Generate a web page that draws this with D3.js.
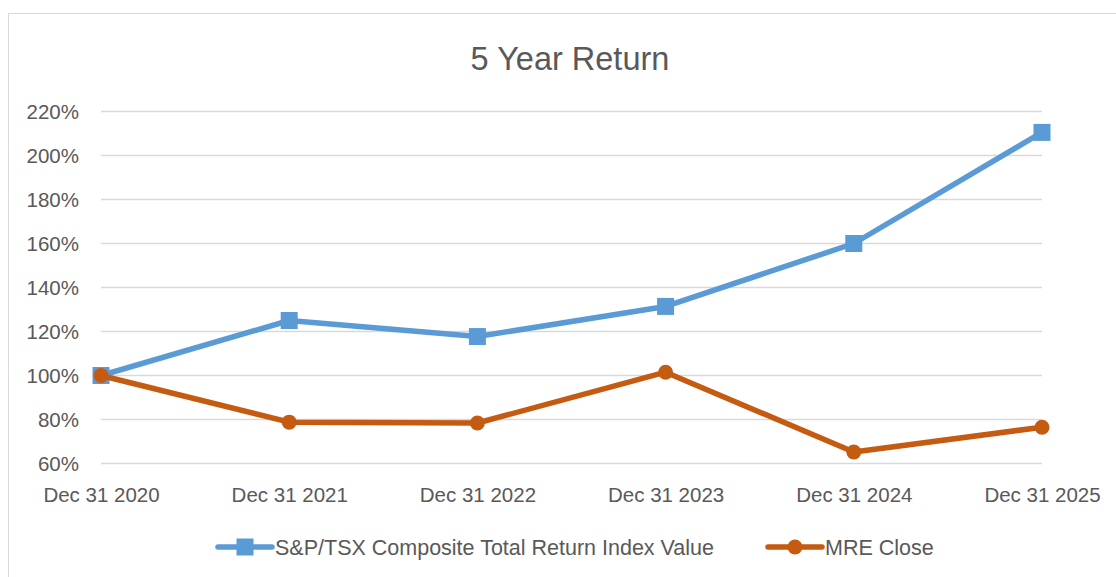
<!DOCTYPE html>
<html>
<head>
<meta charset="utf-8">
<script src="https://cdn.jsdelivr.net/npm/d3@7"></script>
<style>
  body { margin: 0; background: #fff; }
  text { font-family: "Liberation Sans", Arial, sans-serif; fill: #595959; }
</style>
</head>
<body>
<svg width="1116" height="577"></svg>
<script>
// chart data
var dates = ['Dec 31 2020', 'Dec 31 2021', 'Dec 31 2022', 'Dec 31 2023', 'Dec 31 2024', 'Dec 31 2025'];
var tsx = [100, 125, 117.7, 131.4, 160, 210.5];
var mre = [100, 78.8, 78.4, 101.5, 65.2, 76.5];
var yTicks = [60, 80, 100, 120, 140, 160, 180, 200, 220];
var seriesNames = ['S&P/TSX Composite Total Return Index Value', 'MRE Close'];

var blue = '#5b9bd5';
var orange = '#c55a11';

var svg = d3.select('svg');

// outer chart border
svg.append('rect')
  .attr('x', 8.5).attr('y', 13.5)
  .attr('width', 1130).attr('height', 600)
  .attr('fill', 'none')
  .attr('stroke', '#d9d9d9')
  .attr('stroke-width', 1);

var x = d3.scalePoint()
  .domain(dates)
  .range([101, 1042]);

var y = d3.scaleLinear()
  .domain([60, 220])
  .range([463.5, 111.5]);

// gridlines
svg.append('g')
  .selectAll('line')
  .data(yTicks)
  .enter()
  .append('line')
  .attr('x1', 101)
  .attr('x2', 1042)
  .attr('y1', function (d) { return y(d); })
  .attr('y2', function (d) { return y(d); })
  .attr('stroke', '#d9d9d9')
  .attr('stroke-width', 1.3);

// y labels
var yAxis = d3.axisLeft(y)
  .tickValues(yTicks)
  .tickSize(0)
  .tickPadding(0)
  .tickFormat(function (d) { return d + '%'; });

svg.append('g')
  .attr('transform', 'translate(79, 0)')
  .call(yAxis)
  .call(function (g) { g.select('.domain').remove(); })
  .selectAll('text')
  .attr('font-size', 20.5)
  .attr('font-family', null)
  .attr('dy', '0.36em');

// x labels
var xAxis = d3.axisBottom(x).tickSize(0).tickPadding(0);
svg.append('g')
  .attr('transform', 'translate(0, 486.5)')
  .call(xAxis)
  .call(function (g) { g.select('.domain').remove(); })
  .selectAll('text')
  .attr('font-size', 20.5)
  .attr('font-family', null)
  .attr('dy', '0.75em');

// title
svg.append('text')
  .attr('x', 570)
  .attr('y', 70)
  .attr('text-anchor', 'middle')
  .attr('font-size', 32.5)
  .text('5 Year Return');

var line = d3.line()
  .x(function (d, i) { return x(dates[i]); })
  .y(function (d) { return y(d); });

// blue series
svg.append('path')
  .datum(tsx)
  .attr('d', line)
  .attr('fill', 'none')
  .attr('stroke', blue)
  .attr('stroke-width', 5.5)
  .attr('stroke-linejoin', 'round');

svg.append('g')
  .selectAll('rect')
  .data(tsx)
  .enter()
  .append('rect')
  .attr('x', function (d, i) { return x(dates[i]) - 8.5; })
  .attr('y', function (d) { return y(d) - 8.5; })
  .attr('width', 17)
  .attr('height', 17)
  .attr('fill', blue);

// orange series
svg.append('path')
  .datum(mre)
  .attr('d', line)
  .attr('fill', 'none')
  .attr('stroke', orange)
  .attr('stroke-width', 5.5)
  .attr('stroke-linejoin', 'round');

svg.append('g')
  .selectAll('circle')
  .data(mre)
  .enter()
  .append('circle')
  .attr('cx', function (d, i) { return x(dates[i]); })
  .attr('cy', function (d) { return y(d); })
  .attr('r', 7.5)
  .attr('fill', orange);

// legend
var legend = svg.append('g');
var legendX = [218, 768];
var legendColors = [blue, orange];

seriesNames.forEach(function (name, i) {
  var g = legend.append('g').attr('transform', 'translate(' + legendX[i] + ', 547)');
  g.append('line')
    .attr('x1', 0).attr('x2', 54)
    .attr('stroke', legendColors[i])
    .attr('stroke-width', 5.5)
    .attr('stroke-linecap', 'round');
  if (i === 0) {
    g.append('rect')
      .attr('x', 27 - 8.5).attr('y', -8.5)
      .attr('width', 17).attr('height', 17)
      .attr('fill', legendColors[i]);
  } else {
    g.append('circle')
      .attr('cx', 27).attr('cy', 0).attr('r', 7.5)
      .attr('fill', legendColors[i]);
  }
  g.append('text')
    .attr('x', 57)
    .attr('y', 8)
    .attr('font-size', 21.5)
    .text(name);
});
</script>
</body>
</html>
